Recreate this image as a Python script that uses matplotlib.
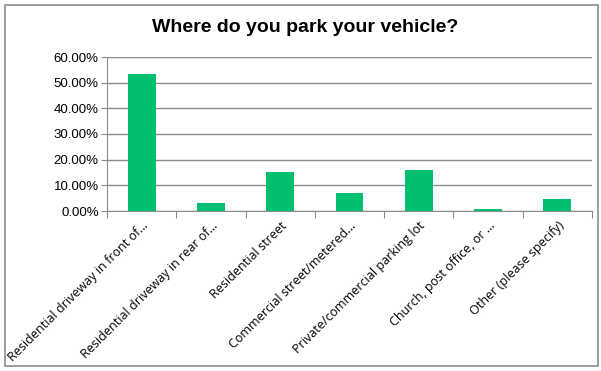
import matplotlib
matplotlib.use("Agg")
import matplotlib.pyplot as plt
from matplotlib.patches import Rectangle
import numpy as np

categories = ["Residential driveway in front of...", "Residential driveway in rear of...",
              "Residential street", "Commercial street/metered...",
              "Private/commercial parking lot", "Church, post office, or ...",
              "Other (please specify)"]
values = [53.5, 3.0, 15.3, 7.1, 15.8, 0.6, 4.5]
yticks = [0, 10, 20, 30, 40, 50, 60]

W, H = 601, 371
fig = plt.figure(figsize=(W/100, H/100), dpi=100)
fig.patch.set_facecolor("white")
fig.patches.append(Rectangle((5/W, 5/H), 593/W, 361/H, transform=fig.transFigure,
                             fill=False, edgecolor="#8c8c8c", linewidth=1.2))

left, right, bottom, top = 107, 592, 211, 57
ax = fig.add_axes([left/W, 1-bottom/H, (right-left)/W, (bottom-top)/H])
x = np.arange(len(categories))
ax.bar(x, values, width=0.4, color="#00BF6F", zorder=3)
ax.set_xlim(-0.5, len(categories)-0.5)
ax.set_ylim(0, 60)
ax.set_yticks(yticks)
ax.set_yticklabels([f"{v:.2f}%" for v in yticks], fontsize=9.5, family="Liberation Sans")
ax.yaxis.grid(True, color="#8c8c8c", linewidth=1.0, zorder=0)
for s in ["top", "right"]:
    ax.spines[s].set_visible(False)
ax.spines["left"].set_color("#8c8c8c")
ax.spines["bottom"].set_color("#8c8c8c")
ax.tick_params(axis="y", length=4, color="#8c8c8c", pad=2)
ax.set_xticks(np.arange(len(categories)+1) - 0.5)
ax.set_xticklabels([])
ax.tick_params(axis="x", which="major", length=5, color="#8c8c8c")
ax.set_xticks(x, minor=True)
ax.set_xticklabels(categories, minor=True, rotation=45, ha="right", va="top",
                   rotation_mode="anchor", fontsize=9, family="Open Sans")
ax.tick_params(axis="x", which="minor", length=0, pad=6)

fig.text(305/W, 1-28/H, "Where do you park your vehicle?", ha="center", va="center",
         fontsize=14, fontweight="bold", family="Liberation Sans")

fig.savefig("out.png", dpi=100)
